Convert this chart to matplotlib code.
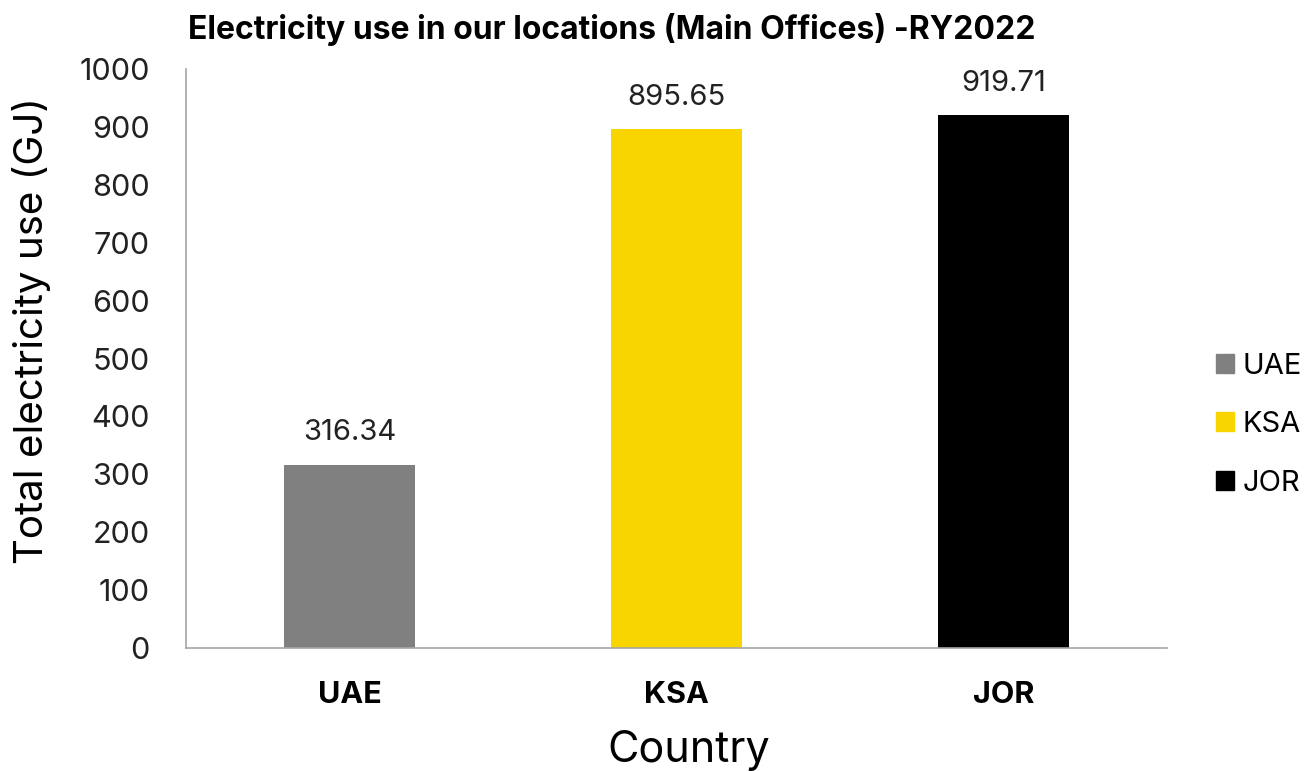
import matplotlib.pyplot as plt
from matplotlib.patches import Patch

# Données
pays = ['UAE', 'KSA', 'JOR']
valeurs = [316.34, 895.65, 919.71]
couleurs = ['#7f807f', '#f9d500', '#000000']
graduations = list(range(0, 1001, 100))

plt.rcParams['font.family'] = ['Inter', 'DejaVu Sans']

fig = plt.figure(figsize=(13.12, 7.71), dpi=100)
ax = fig.add_axes([0.1418, 0.1595, 0.7477, 0.751])

barres = ax.bar(range(len(pays)), valeurs, width=0.4, color=couleurs)
for b, v in zip(barres, valeurs):
    ax.annotate(f'{v:.2f}', (b.get_x() + b.get_width() / 2, v),
                xytext=(0, 23), textcoords='offset points',
                ha='center', va='center', fontsize=21, color='#222222')

ax.set_xlim(-0.5, len(pays) - 0.5)
ax.set_ylim(0, 1000)
ax.set_yticks(graduations)
ax.set_yticklabels([str(g) for g in graduations], fontsize=22, color='#222222')
ax.set_xticks(range(len(pays)))
ax.set_xticklabels(pays, fontsize=22, fontweight='bold')
ax.tick_params(length=0)
ax.tick_params(axis='y', pad=26)
ax.tick_params(axis='x', pad=24)

for s in ['top', 'right']:
    ax.spines[s].set_visible(False)
for s in ['left', 'bottom']:
    ax.spines[s].set_color('#a6a6a6')
    ax.spines[s].set_linewidth(1.2)

ax.set_ylabel('Total electricity use (GJ)', fontsize=29)
ax.yaxis.set_label_coords(-0.138, 0.549)
ax.set_xlabel('Country', fontsize=31)
ax.xaxis.set_label_coords(0.512, -0.142)
fig.text(0.143, 0.962, 'Electricity use in our locations (Main Offices) -RY2022',
         fontsize=23, fontweight='bold', ha='left', va='center')

poignees = [Patch(color=c, label=p) for p, c in zip(pays, couleurs)]
ax.legend(handles=poignees, loc='center left', bbox_to_anchor=(1.05, 0.386),
          frameon=False, fontsize=21, handlelength=0.6, handleheight=0.6,
          handletextpad=0.3, labelspacing=1.08, borderaxespad=0, borderpad=0)

fig.savefig('out.png', dpi=100)
